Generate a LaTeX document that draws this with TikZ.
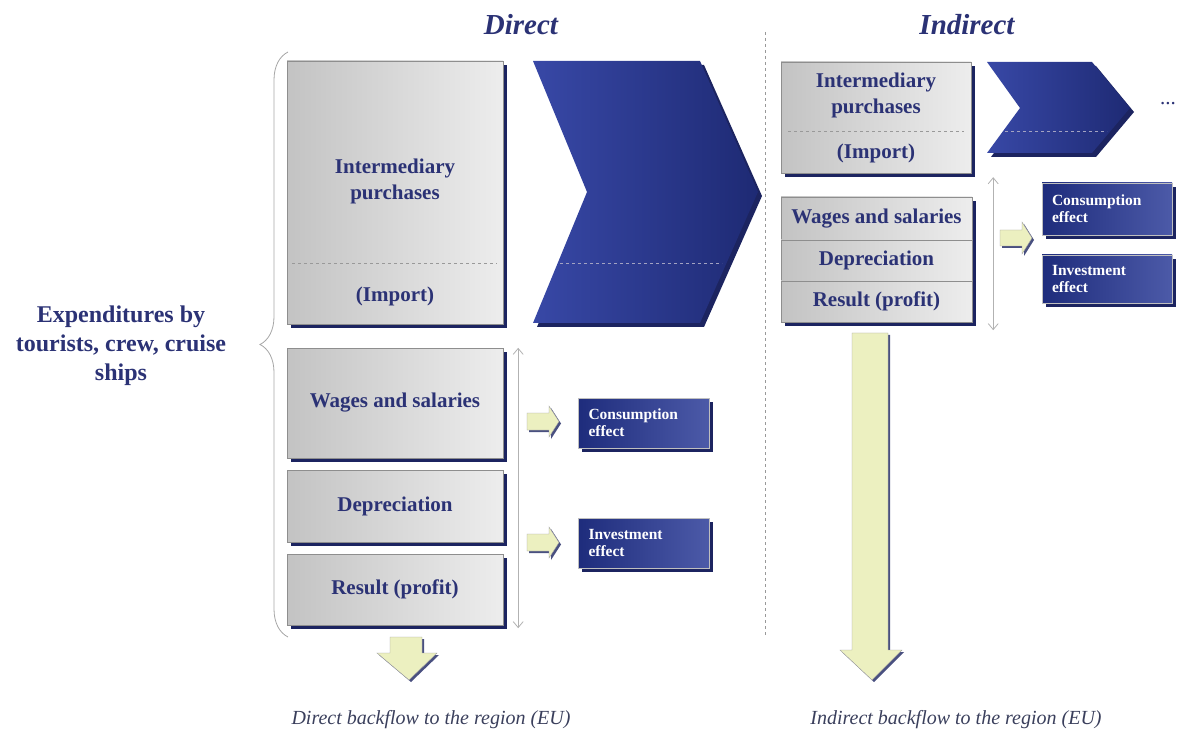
\documentclass[tikz,border=0pt]{standalone}
\usepackage{fontspec}
\setmainfont{Liberation Serif}
\usetikzlibrary{shadows,arrows.meta,decorations.pathreplacing}

\definecolor{navytext}{HTML}{2B3275}
\definecolor{shadownavy}{HTML}{1C2460}
\definecolor{boxleft}{HTML}{C3C3C3}
\definecolor{boxright}{HTML}{EDEDED}
\definecolor{boxline}{HTML}{8E8E8E}
\definecolor{chevleft}{HTML}{3848A6}
\definecolor{chevright}{HTML}{1E2A74}
\definecolor{effleft}{HTML}{1E2C7C}
\definecolor{effright}{HTML}{4C5AA8}
\definecolor{yelfill}{HTML}{ECF0C0}
\definecolor{captiontext}{HTML}{3A3F5C}

\tikzset{
  navyshadow/.style={drop shadow={shadow xshift=4pt, shadow yshift=-4pt,
      opacity=1, fill=shadownavy}},
  graybox/.style={draw=boxline, left color=boxleft, right color=boxright,
    inner sep=0pt, navyshadow},
  boxtext/.style={text=navytext, align=center,
    font=\fontsize{21}{26}\selectfont\bfseries},
  effbox/.style={draw=gray!50, left color=effleft, right color=effright,
    inner sep=0pt, text width=110pt, align=left, text=white,
    font=\fontsize{15.5}{17}\selectfont\bfseries, navyshadow},
  chevron/.style={left color=chevleft, right color=chevright, navyshadow},
  yelarrow/.style={draw=gray!75, fill=yelfill,
    drop shadow={shadow xshift=2pt, shadow yshift=-2pt, opacity=0.8,
      fill=shadownavy}},
  divider/.style={dashed, gray!80, line width=0.6pt},
  chevdivider/.style={dashed, blue!20!gray!60, line width=0.6pt},
  dblarrow/.style={{Straight Barb[length=6pt,width=10pt]}-{Straight Barb[length=6pt,width=10pt]},
    gray!60, line width=0.8pt},
  heading/.style={text=navytext, font=\fontsize{29}{32}\selectfont\bfseries\itshape},
  caption/.style={text=captiontext, font=\fontsize{20}{23}\selectfont\itshape},
}

\begin{document}
\begin{tikzpicture}[x=1pt, y=-1pt]
  \useasboundingbox (0,0) rectangle (1179,738);

  % headings and separator
  \node[heading] (tdirect) at (521,25) {Direct};
  \node[heading] (tindirect) at (967,25) {Indirect};
  \draw[divider] (765,32) -- (765,637);

  % expenditures and brace
  \node[boxtext, font=\fontsize{24}{29}\selectfont\bfseries] (expend) at (121,346)
    {Expenditures by\\tourists, crew, cruise\\ships};
  \draw[gray!70, line width=0.8pt, decorate,
    decoration={brace, amplitude=28pt}] (288,637) -- (288,52);

  % direct column
  \node[graybox, minimum width=216, minimum height=263] (dint) at (395,192.5) {};
  \node[boxtext] (dintlabel) at (395,181) {Intermediary\\purchases};
  \draw[divider] (292,263) -- (497,263);
  \node[boxtext] (dimport) at (395,296) {(Import)};

  \shade[chevron] (533,61) -- (700,61) -- (758,192) -- (700,323)
    -- (533,323) -- (587,192) -- cycle;
  \draw[chevdivider] (560,263) -- (722,263);

  \node[graybox, boxtext, minimum width=216, minimum height=110] (dwage) at (395,403) {Wages and salaries};
  \node[graybox, boxtext, minimum width=216, minimum height=72] (ddep) at (395,506) {Depreciation};
  \node[graybox, boxtext, minimum width=216, minimum height=71] (dres) at (395,589.5) {Result (profit)};

  \draw[dblarrow] ([xshift=15pt]dwage.north east) -- ([xshift=15pt,yshift=-3pt]dres.south east);

  \path[yelarrow] (527,413) -- (549,413) -- (549,406) -- (559,421.5)
    -- (549,437) -- (549,430) -- (527,430) -- cycle;
  \path[yelarrow] (527,534) -- (549,534) -- (549,527) -- (559,542.5)
    -- (549,558) -- (549,551) -- (527,551) -- cycle;

  \node[effbox, minimum width=131, minimum height=50] (dcons) at (643.5,423) {Consumption\\effect};
  \node[effbox, minimum width=131, minimum height=50] (dinv) at (643.5,543) {Investment\\effect};

  \path[yelarrow] (390,637) -- (422,637) -- (422,653) -- (437,653)
    -- (409,680) -- (377,653) -- (390,653) -- cycle;

  % indirect column
  \node[graybox, minimum width=190, minimum height=111] (iint) at (876,117.5) {};
  \node[boxtext] (iintlabel) at (876,95) {Intermediary\\purchases};
  \draw[divider] (788,131) -- (964,131);
  \node[boxtext] (iimport) at (876,153) {(Import)};

  \shade[chevron] (987,62) -- (1092,62) -- (1130,108) -- (1092,153)
    -- (987,153) -- (1020,108) -- cycle;
  \draw[chevdivider] (1005,131) -- (1107,131);
  \node[boxtext, font=\fontsize{21}{26}\selectfont] (idots) at (1168,104) {...};

  \node[graybox, boxtext, minimum width=191, minimum height=43] (iwage) at (876.5,218.5) {Wages and salaries};
  \node[graybox, boxtext, minimum width=191, minimum height=41] (idep) at (876.5,260.5) {Depreciation};
  \node[graybox, boxtext, minimum width=191, minimum height=41] (ires) at (876.5,301.5) {Result (profit)};

  \draw[dblarrow] ([xshift=22pt,yshift=-4pt]iint.south east) -- ([xshift=21pt,yshift=-8pt]ires.south east);

  \path[yelarrow] (1000,230) -- (1022,230) -- (1022,222) -- (1032,238)
    -- (1022,254) -- (1022,246) -- (1000,246) -- cycle;

  \node[effbox, minimum width=130, minimum height=52] (icons) at (1107,209) {Consumption\\effect};
  \node[effbox, minimum width=130, minimum height=48] (iinv) at (1107,279) {Investment\\effect};

  \path[yelarrow] (852,333) -- (888,333) -- (888,650) -- (902,650)
    -- (872,680) -- (840,650) -- (852,650) -- cycle;

  % captions
  \node[caption] (dback) at (431,720) {Direct backflow to the region (EU)};
  \node[caption] (iback) at (956,720) {Indirect backflow to the region (EU)};
\end{tikzpicture}
\end{document}
